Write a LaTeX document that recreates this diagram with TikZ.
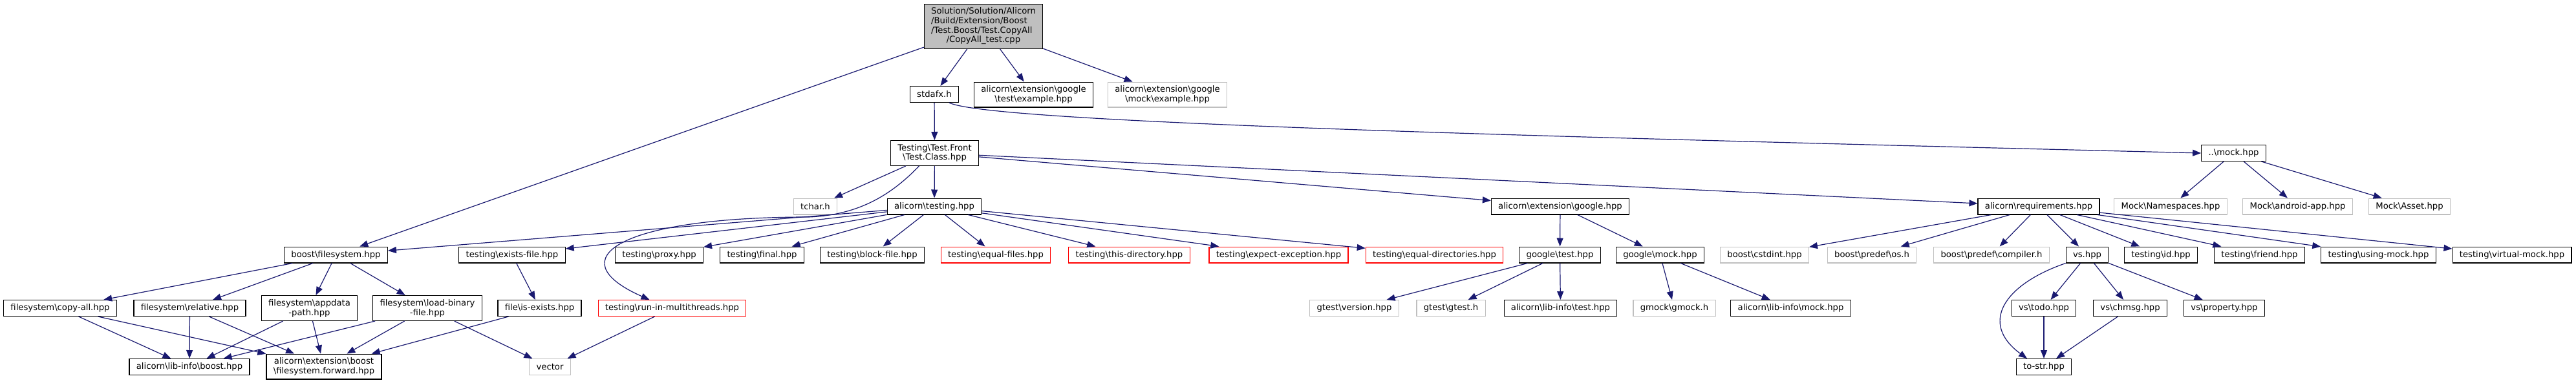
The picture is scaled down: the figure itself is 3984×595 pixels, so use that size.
\documentclass[tikz,border=0pt]{standalone}
\usepackage{fontspec}
\setmainfont{DejaVu Sans}
\usepackage{tikz}
\usetikzlibrary{arrows.meta}
\definecolor{edgeblue}{HTML}{191970}
\definecolor{greyline}{HTML}{BFBFBF}
\newcommand{\bsl}{\textbackslash}

\begin{document}
\begin{tikzpicture}[x=1pt,y=-1pt,font=\fontsize{13.2}{14.7}\selectfont,
file/.style={draw=black,line width=1.1pt,inner xsep=10.8pt,inner ysep=1pt,minimum height=24.9pt,align=center},
sysfile/.style={file,draw=greyline},
cutfile/.style={file,draw=red},
twoline/.style={minimum height=38.9pt},
inc/.style={draw=edgeblue,line width=1.2pt,-{Triangle[length=13pt,width=10pt]}}]
\useasboundingbox (0,0) rectangle (3984,595);

% top
\node[file,fill=greyline,minimum height=68.9pt] (root) at (1521,41)
{\begin{tabular}{@{}l@{}}Solution/Solution/Alicorn\\/Build/Extension/Boost\\/Test.Boost/Test.CopyAll\\\multicolumn{1}{@{}c@{}}{/CopyAll\_test.cpp}\end{tabular}};
\node[file] (stdafx) at (1445,146) {stdafx.h};
\node[file,twoline] (gtexample) at (1598.5,146.5) {alicorn\bsl extension\bsl google\\\bsl test\bsl example.hpp};
\node[sysfile,twoline] (gmexample) at (1805.5,146.5) {alicorn\bsl extension\bsl google\\\bsl mock\bsl example.hpp};
\node[file,twoline] (testclass) at (1445.5,237) {Testing\bsl Test.Front\\\bsl Test.Class.hpp};
\node[file] (mock) at (3454.5,237) {..\bsl mock.hpp};

% third row
\node[sysfile] (tchar) at (1261,319.5) {tchar.h};
\node[file] (testing) at (1445,319.5) {alicorn\bsl testing.hpp};
\node[file] (google) at (2413,319.5) {alicorn\bsl extension\bsl google.hpp};
\node[file] (requirements) at (3153,319.5) {alicorn\bsl requirements.hpp};
\node[sysfile] (namespaces) at (3357,319.5) {Mock\bsl Namespaces.hpp};
\node[sysfile] (androidapp) at (3553.5,319.5) {Mock\bsl android-app.hpp};
\node[sysfile] (asset) at (3726.5,319.5) {Mock\bsl Asset.hpp};

% fourth row
\node[file] (bfs) at (519.5,394.5) {boost\bsl filesystem.hpp};
\node[file] (existsfile) at (792,394.5) {testing\bsl exists-file.hpp};
\node[file] (proxy) at (1019.5,394.5) {testing\bsl proxy.hpp};
\node[file] (final) at (1178.5,394.5) {testing\bsl final.hpp};
\node[file] (blockfile) at (1349,394.5) {testing\bsl block-file.hpp};
\node[cutfile] (equalfiles) at (1540,394.5) {testing\bsl equal-files.hpp};
\node[cutfile] (thisdir) at (1746.5,394.5) {testing\bsl this-directory.hpp};
\node[cutfile] (expectexc) at (1977.5,394.5) {testing\bsl expect-exception.hpp};
\node[cutfile] (equaldirs) at (2218.5,394.5) {testing\bsl equal-directories.hpp};
\node[file] (gtest) at (2412.5,394.5) {google\bsl test.hpp};
\node[file] (gmock) at (2567.5,394.5) {google\bsl mock.hpp};
\node[sysfile] (cstdint) at (2729,394.5) {boost\bsl cstdint.hpp};
\node[sysfile] (predefos) at (2895,394.5) {boost\bsl predef\bsl os.h};
\node[sysfile] (compiler) at (3080,394.5) {boost\bsl predef\bsl compiler.h};
\node[file] (vs) at (3228,394.5) {vs.hpp};
\node[file] (id) at (3342,394.5) {testing\bsl id.hpp};
\node[file] (friend) at (3494.5,394.5) {testing\bsl friend.hpp};
\node[file] (usingmock) at (3678.5,394.5) {testing\bsl using-mock.hpp};
\node[file] (virtualmock) at (3885,394.5) {testing\bsl virtual-mock.hpp};

% fifth row
\node[file] (copyall) at (93,477) {filesystem\bsl copy-all.hpp};
\node[file] (relative) at (293.5,477) {filesystem\bsl relative.hpp};
\node[file,twoline] (appdata) at (478.5,477) {filesystem\bsl appdata\\-path.hpp};
\node[file,twoline] (loadbinary) at (661,477) {filesystem\bsl load-binary\\-file.hpp};
\node[file] (isexists) at (834.5,477) {file\bsl is-exists.hpp};
\node[cutfile] (multithreads) at (1039.5,477) {testing\bsl run-in-multithreads.hpp};
\node[sysfile] (version) at (2094.5,477) {gtest\bsl version.hpp};
\node[sysfile] (gtesth) at (2244,477) {gtest\bsl gtest.h};
\node[file] (libtest) at (2413.5,477) {alicorn\bsl lib-info\bsl test.hpp};
\node[sysfile] (gmockh) at (2589.5,477) {gmock\bsl gmock.h};
\node[file] (libmock) at (2769.5,477) {alicorn\bsl lib-info\bsl mock.hpp};
\node[file] (todo) at (3161,477) {vs\bsl todo.hpp};
\node[file] (chmsg) at (3294.5,477) {vs\bsl chmsg.hpp};
\node[file] (property) at (3440,477) {vs\bsl property.hpp};

% bottom row
\node[file] (libboost) at (293,568) {alicorn\bsl lib-info\bsl boost.hpp};
\node[file,twoline] (forward) at (501,567.5) {alicorn\bsl extension\bsl boost\\\bsl filesystem.forward.hpp};
\node[sysfile] (vector) at (850.5,568) {vector};
\node[file] (tostr) at (3161,568) {to-str.hpp};

% includes
\draw[inc] (root) -- (bfs);
\draw[inc] (root) -- (stdafx);
\draw[inc] (root) -- (gtexample);
\draw[inc] (root) -- (gmexample);
\draw[inc] (stdafx) -- (testclass);
\draw[inc] ([xshift=23pt]stdafx.south) .. controls (1530,190) and (2400,212) .. (mock.west);
\draw[inc] (mock) -- (namespaces);
\draw[inc] (mock) -- (androidapp);
\draw[inc] (mock) -- (asset);
\draw[inc] (testclass) -- (tchar);
\draw[inc] (testclass) -- (testing);
\draw[inc] (testclass) -- (google);
\draw[inc] (testclass) -- (requirements);
\draw[inc] ([xshift=-24pt]testclass.south) .. controls (1380,300) and (1330,333) .. (1250,336)
 .. controls (960,336) and (860,400) .. ([xshift=-35pt]multithreads.north);
\draw[inc] (testing) -- (bfs);
\draw[inc] (testing) -- (existsfile);
\draw[inc] (testing) -- (proxy);
\draw[inc] (testing) -- (final);
\draw[inc] (testing) -- (blockfile);
\draw[inc] (testing) -- (equalfiles);
\draw[inc] (testing) -- (thisdir);
\draw[inc] (testing) -- (expectexc);
\draw[inc] (testing) -- (equaldirs);
\draw[inc] (google) -- (gtest);
\draw[inc] (google) -- (gmock);
\draw[inc] (gtest) -- (version);
\draw[inc] (gtest) -- (gtesth);
\draw[inc] (gtest) -- (libtest);
\draw[inc] (gmock) -- (gmockh);
\draw[inc] (gmock) -- (libmock);
\draw[inc] (requirements) -- (cstdint);
\draw[inc] (requirements) -- (predefos);
\draw[inc] (requirements) -- (compiler);
\draw[inc] (requirements) -- (vs);
\draw[inc] (requirements) -- (id);
\draw[inc] (requirements) -- (friend);
\draw[inc] (requirements) -- (usingmock);
\draw[inc] (requirements) -- (virtualmock);
\draw[inc] (vs) -- (todo);
\draw[inc] (vs) -- (chmsg);
\draw[inc] (vs) -- (property);
\draw[inc] (vs.south west) .. controls (3100,440) and (3060,500) .. ([xshift=-26pt]tostr.north);
\draw[inc] (todo) -- (tostr);
\draw[inc] (chmsg) -- (tostr);
\draw[inc] (bfs) -- (copyall);
\draw[inc] (bfs) -- (relative);
\draw[inc] (bfs) -- (appdata);
\draw[inc] (bfs) -- (loadbinary);
\draw[inc] (existsfile) -- (isexists);
\draw[inc] (copyall) -- (libboost);
\draw[inc] (copyall) -- (forward);
\draw[inc] (relative) -- (libboost);
\draw[inc] (relative) -- (forward);
\draw[inc] (appdata) -- (libboost);
\draw[inc] (appdata) -- (forward);
\draw[inc] (loadbinary) -- (libboost);
\draw[inc] (loadbinary) -- (forward);
\draw[inc] (loadbinary) -- (vector);
\draw[inc] (isexists) -- (forward);
\draw[inc] (multithreads) -- (vector);
\end{tikzpicture}
\end{document}
